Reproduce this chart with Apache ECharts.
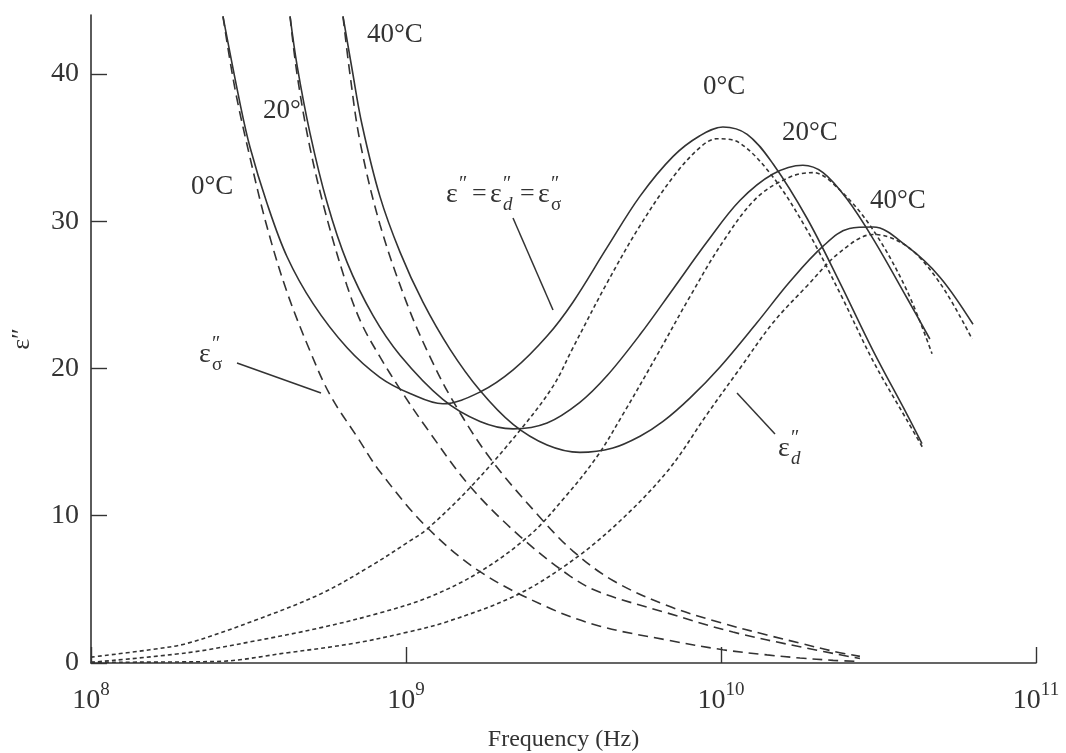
<!DOCTYPE html>
<html><head><meta charset="utf-8">
<script src="https://cdn.jsdelivr.net/npm/echarts@6/dist/echarts.min.js"></script>
<style>html,body{margin:0;padding:0;background:#fff}#c{width:1066px;height:753px}</style>
</head><body><div id="c"></div>
<script>
// ---- data (frequencies in GHz, values are epsilon'') ----
const xTickValues = [1e8, 1e9, 1e10, 1e11];
const yTickValues = [0, 10, 20, 30, 40];

// total loss  e'' = e''_d + e''_sigma  (solid)
const freqTotal0 = [0.2624,0.2972,0.3199,0.3622,0.4188,0.5070,0.6501,0.8260,1.030,1.309,1.718,2.188,2.805,3.388,4.345,5.534,7.047,8.570,10.14,12.11,14.62,18.75,23.88,30.41,38.90,43.45];
const lossTotal0 = [43.9,38.0,35.0,31.2,27.6,24.4,21.4,19.4,18.3,17.6,18.4,19.9,22.2,24.5,28.2,31.7,34.4,35.8,36.4,35.9,33.9,30.2,25.8,21.2,16.9,14.9];
const freqTotal20 = [0.4285,0.4508,0.4955,0.5610,0.6501,0.7852,0.9572,1.309,1.718,2.188,2.805,3.565,4.345,5.534,7.047,9.036,11.48,14.62,18.20,21.09,25.12,30.41,38.90,46.03];
const lossTotal20 = [43.9,40.6,36.0,31.3,27.2,23.6,20.9,17.9,16.4,15.9,16.3,17.7,19.5,22.3,25.4,28.6,31.4,33.2,33.8,33.3,31.5,28.8,24.8,22.0];
const freqTotal40 = [0.6310,0.6745,0.7244,0.8260,0.9572,1.132,1.380,1.718,2.188,2.805,3.565,4.539,5.534,6.546,7.980,9.931,13.00,16.56,21.09,25.58,30.41,38.90,49.55,63.10];
const lossTotal40 = [43.9,40.3,36.6,31.7,27.9,24.5,21.3,18.5,16.2,14.8,14.3,14.6,15.4,16.4,18.0,20.1,23.1,25.9,28.3,29.5,29.6,28.3,26.2,23.0];

// dipolar loss e''_d (short dashes)
const freqDip0 = [0.1,0.1538,0.2032,0.3319,0.5370,0.7745,1.014,1.167,1.596,2.301,2.931,3.388,4.345,5.534,7.047,8.570,9.705,11.48,14.62,18.75,23.88,30.41,38.90,43.75];
const lossDip0 = [0.4,0.9,1.35,2.9,4.7,6.6,8.2,9.1,11.9,15.8,18.8,21.4,25.8,29.7,33.0,35.0,35.6,35.3,33.0,29.4,25.1,20.5,16.5,14.6];
const freqDip20 = [0.1,0.2032,0.3319,0.5370,0.8260,1.191,1.718,2.477,3.148,4.036,4.887,6.266,7.980,10.14,13.00,16.56,19.59,23.88,30.41,38.90,46.77];
const lossDip20 = [0.05,0.7,1.5,2.4,3.4,4.5,6.2,8.7,11.1,14.0,16.9,20.9,24.9,28.6,31.6,33.0,33.3,32.1,29.4,25.3,21.0];
const freqDip40 = [0.1,0.2477,0.4217,0.6887,1.014,1.349,2.188,3.148,4.539,6.745,9.036,11.48,14.62,18.75,23.88,30.41,38.90,49.55,62.66];
const lossDip40 = [0.05,0.1,0.7,1.35,2.1,2.8,4.5,6.5,9.2,13.0,16.9,20.0,23.1,25.6,27.9,29.1,28.3,25.8,22.0];

// conduction loss e''_sigma (long dashes)
const freqCond0 = [0.2624,0.2864,0.3199,0.3622,0.4188,0.4955,0.5741,0.7021,0.8260,1.167,1.718,2.805,4.130,6.745,10.14,14.00,17.82,22.70,27.61];
const lossCond0 = [43.9,39.0,34.3,29.6,25.2,21.2,18.2,15.3,13.0,9.2,6.2,3.8,2.5,1.56,0.9,0.55,0.34,0.18,0.1];
const freqCond20 = [0.4285,0.4508,0.4955,0.5610,0.6501,0.7244,0.8260,0.9572,1.167,1.596,2.301,3.319,4.130,6.745,10.91,17.82,27.61];
const lossCond20 = [43.9,40.0,35.0,30.2,25.6,23.0,20.8,18.6,15.9,12.0,8.6,5.9,4.8,3.4,2.1,1.1,0.3];
const freqCond40 = [0.6310,0.6637,0.7145,0.8260,1.007,1.191,1.409,1.849,2.661,3.388,4.539,6.745,9.931,14.00,17.82,22.70,27.61];
const lossCond40 = [43.9,40.0,35.4,29.8,24.4,20.8,17.8,13.9,9.9,7.6,5.6,3.9,2.75,1.9,1.35,0.8,0.45];

// ---- chart ----
const FONT = '"Liberation Serif","DejaVu Serif",serif';
const INK = '#333';
const pairs = (f, v) => f.map((g, i) => [g * 1e9, v[i]]);
const solid = 'solid', dotted = [4, 3], dashed = [10, 6];
function line(f, v, type) {
  return { type: 'line', data: pairs(f, v), showSymbol: false, smooth: 0.35, silent: true,
    lineStyle: { color: INK, width: 1.6, type: type }, animation: false };
}
function txt(x, y, s, size, italic) {
  return { type: 'text', x: x, y: y, silent: true,
    style: { text: s, fill: INK, font: (italic ? 'italic ' : '') + size + 'px ' + FONT,
      align: 'left', verticalAlign: 'middle' } };
}
function eps(x, y, sub, it) {
  return [txt(x, y, 'ε', 28), txt(x + 13, y - 10, '″', 20), txt(x + 13, y + 10, sub, 19, it)];
}
function seg(x1, y1, x2, y2) {
  return { type: 'line', silent: true, shape: { x1, y1, x2, y2 }, style: { stroke: INK, lineWidth: 1.5 } };
}

const chart = echarts.init(document.getElementById('c'), null, { renderer: 'canvas' });
chart.setOption({
  animation: false,
  backgroundColor: '#fff',
  grid: { left: 91, right: 30, top: 15, bottom: 90, containLabel: false, outerBoundsMode: 'none' },
  xAxis: {
    type: 'log', logBase: 10, min: 1e8, max: 1e11,
    name: 'Frequency (Hz)', nameLocation: 'middle', nameGap: 65,
    nameTextStyle: { fontFamily: FONT, fontSize: 24, color: INK },
    axisLine: { onZero: false, lineStyle: { color: INK, width: 1.6 } },
    axisTick: { inside: true, length: 16, lineStyle: { color: INK, width: 1.4 } },
    minorTick: { show: false }, splitLine: { show: false },
    axisLabel: {
      margin: 18,
      formatter: v => '{b|10}{s|' + Math.round(Math.log10(v)) + '}',
      rich: {
        b: { fontFamily: FONT, fontSize: 28, color: INK, lineHeight: 34, verticalAlign: 'bottom' },
        s: { fontFamily: FONT, fontSize: 19, color: INK, lineHeight: 20, verticalAlign: 'top' }
      }
    }
  },
  yAxis: {
    type: 'value', min: 0, max: 44,
    name: 'ε″', nameLocation: 'middle', nameGap: 56, nameRotate: 90,
    nameTextStyle: { fontFamily: FONT, fontSize: 26, color: INK },
    axisLine: { show: true, onZero: false, lineStyle: { color: INK, width: 1.6 } },
    axisTick: { show: true, inside: true, length: 16, customValues: yTickValues, lineStyle: { color: INK, width: 1.4 } },
    axisLabel: { customValues: yTickValues, fontFamily: FONT, fontSize: 28, color: INK, margin: 12 },
    splitLine: { show: false }
  },
  series: [
    line(freqTotal0, lossTotal0, solid), line(freqTotal20, lossTotal20, solid), line(freqTotal40, lossTotal40, solid),
    line(freqDip0, lossDip0, dotted), line(freqDip20, lossDip20, dotted), line(freqDip40, lossDip40, dotted),
    line(freqCond0, lossCond0, dashed), line(freqCond20, lossCond20, dashed), line(freqCond40, lossCond40, dashed)
  ],
  graphic: [
    txt(367, 35, '40°C', 27), txt(263, 111, '20°', 27), txt(191, 187, '0°C', 27),
    txt(703, 87, '0°C', 27), txt(782, 133, '20°C', 27), txt(870, 201, '40°C', 27),
    ...eps(199, 355, 'σ', false),
    ...eps(778, 449, 'd', true),
    ...eps(446, 195, '', false), txt(472, 194, '=', 26),
    ...eps(490, 195, 'd', true), txt(520, 194, '=', 26),
    ...eps(538, 195, 'σ', false),
    seg(237, 363, 321, 393), seg(513, 218, 553, 310), seg(737, 393, 775, 434)
  ]
});
</script></body></html>
